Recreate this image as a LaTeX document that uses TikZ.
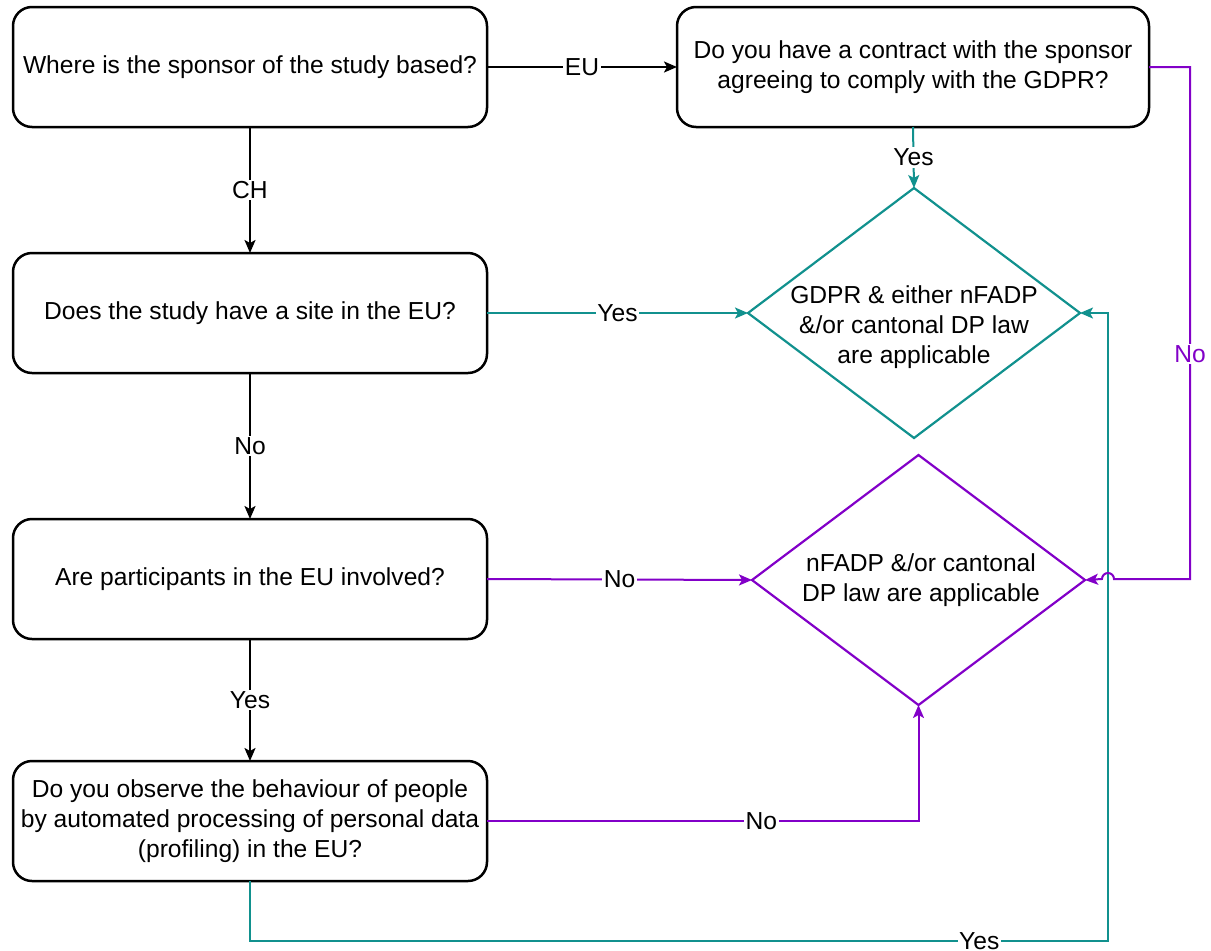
\documentclass[tikz,border=0pt]{standalone}
\usepackage{fontspec}
\setmainfont{Liberation Sans}
\usetikzlibrary{arrows.meta,shapes.geometric,calc}
\definecolor{tealc}{RGB}{17,145,142}
\definecolor{purplec}{RGB}{130,0,200}
\begin{document}
\begin{tikzpicture}[x=1pt,y=-1pt,
  font=\fontsize{24.6}{30}\selectfont,
  qbox/.style={draw=black,line width=2.5pt,rounded corners=19pt,minimum width=474pt,minimum height=120pt,inner sep=0pt,outer sep=0pt,align=center,fill=white},
  dbox/.style={diamond,line width=2.2pt,minimum width=332pt,minimum height=250pt,inner sep=0pt,outer sep=0pt},
  conn/.style={line width=2pt,-{Stealth[length=13pt,width=11pt,inset=3pt]}},
  lab/.style={fill=white,inner sep=1.5pt,text=black},
]
\useasboundingbox (0,0) rectangle (1211,951);
% boxes
\node[qbox] (A) at (250,67) {Where is the sponsor of the study based?};
\node[qbox,minimum width=472pt] (B) at (913,67) {Do you have a contract with the sponsor\\agreeing to comply with the GDPR?};
\node[qbox] (C) at (250,313) {Does the study have a site in the EU?};
\node[qbox] (D) at (250,579) {Are participants in the EU involved?};
\node[qbox] (E) at (250,821) {Do you observe the behaviour of people\\by automated processing of personal data\\(profiling) in the EU?};
% diamonds
\node[dbox,draw=tealc] (F) at (914,313) {};
\node[align=center] (Ft) at (914,327) {GDPR \& either nFADP\\\&/or cantonal DP law\\are applicable};
\node[dbox,draw=purplec,minimum width=333pt] (G) at (918.5,580) {};
\node[align=center] (Gt) at (921,580) {nFADP \&/or cantonal\\DP law are applicable};
% helper coordinates
\coordinate (eb) at (250,941);
\coordinate (fr) at (1108,941);
\coordinate (br) at (1190,579);
% connectors black
\draw[conn] (A.east) -- node[lab]{EU} (B.west);
\draw[conn] (A.south) -- node[lab]{CH} (C.north);
\draw[conn] (C.south) -- node[lab]{No} (D.north);
\draw[conn] (D.south) -- node[lab]{Yes} (E.north);
% teal
\draw[conn,tealc] (C.east) -- node[lab,pos=0.5]{Yes} (F.west);
\draw[conn,tealc] (B.south) -- node[lab]{Yes} (F.north);
\draw[conn,tealc] (E.south) -- (eb) -- node[lab,pos=0.85]{Yes} (fr) |- (F.east);
% purple
\draw[conn,purplec] (D.east) -- node[lab,pos=0.5]{No} (G.west);
\draw[conn,purplec] (E.east) -| node[lab,pos=0.318]{No} (G.south);
\draw[conn,purplec] (B.east) -| node[lab,pos=0.78,text=purplec]{No} (br) -- (1114,579) arc[start angle=0,end angle=-180,radius=6] -- (G.east);
\end{tikzpicture}
\end{document}
